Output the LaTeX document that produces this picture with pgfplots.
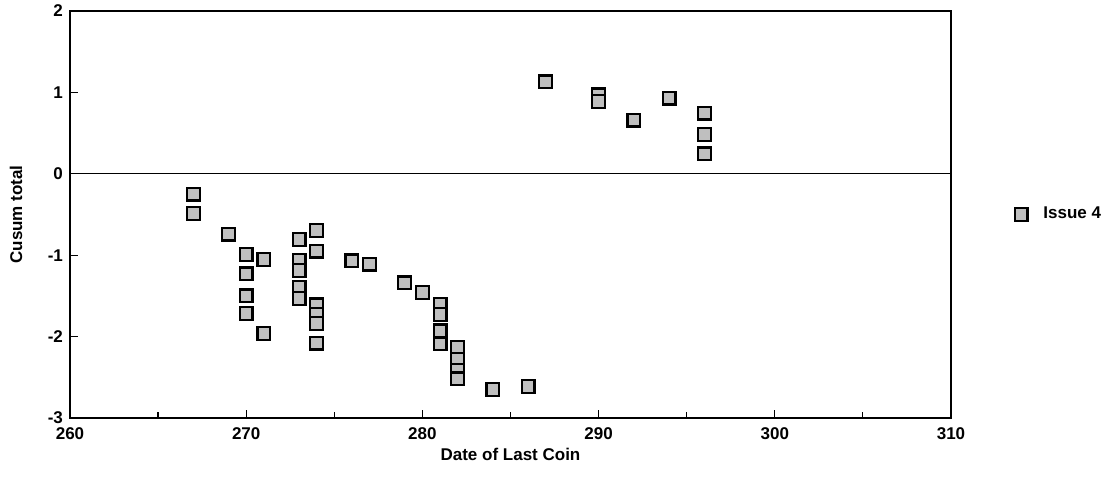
\documentclass[border=0pt]{standalone}
\usepackage{fontspec}
\setmainfont{Liberation Sans}
\usepackage{pgfplots}
\pgfplotsset{compat=1.18}

\begin{document}
\begin{tikzpicture}[font=\fontsize{8.5}{10}\selectfont\bfseries]
\begin{axis}[
    at={(0,0)}, anchor=south west,
    width=440.5pt, height=203.5pt,
    scale only axis,
    xmin=260, xmax=310,
    ymin=-3, ymax=2,
    xtick={260,270,...,310},
    minor xtick={265,275,...,305},
    ytick={-3,-2,...,2},
    tick align=inside,
    xtick pos=bottom,
    ytick pos=left,
    major tick length=4pt,
    minor tick length=3pt,
    tick style={black, line width=0.6pt},
    axis line style={line width=0.6pt},
    xticklabel style={yshift=-1.5pt},
    xlabel={Date of Last Coin},
    ylabel={Cusum total},
    ylabel style={at={(axis description cs:-0.046,0.5)}, anchor=south},
    xlabel style={yshift=3pt},
    /pgf/number format/assume math mode=true,
    /pgf/number format/1000 sep={},
    legend style={at={(1.065,0.5)}, anchor=west, draw=none, fill=none,
                  font=\fontsize{8.5}{10}\selectfont\bfseries,
                  /tikz/every odd column/.append style={column sep=6pt}},
    legend cell align=left,
    clip=false,
]
\addplot[black, line width=0.6pt, no marks, forget plot] coordinates {(260,0) (310,0)};
\addplot[only marks, mark=square*, mark size=3.2pt,
         mark options={fill=gray!50, draw=black, line width=1.1pt}]
table[x=x, y=y] {
x y
267 -0.25
267 -0.49
269 -0.74
270 -0.99
271 -1.05
270 -1.23
270 -1.50
270 -1.72
271 -1.96
273 -0.81
274 -0.70
274 -0.95
273 -1.06
273 -1.19
273 -1.40
273 -1.53
274 -1.61
274 -1.73
274 -1.84
274 -2.08
276 -1.07
277 -1.11
279 -1.34
280 -1.46
281 -1.60
281 -1.73
281 -1.93
281 -2.09
282 -2.13
282 -2.28
282 -2.42
282 -2.52
284 -2.65
286 -2.61
287 1.13
290 0.97
290 0.89
292 0.66
294 0.93
296 0.745
296 0.48
296 0.245
};
\addlegendentry{Issue 4}
\end{axis}
\pgfresetboundingbox
\path (-35pt,-31pt) rectangle (523pt,209pt);
\end{tikzpicture}
\end{document}
